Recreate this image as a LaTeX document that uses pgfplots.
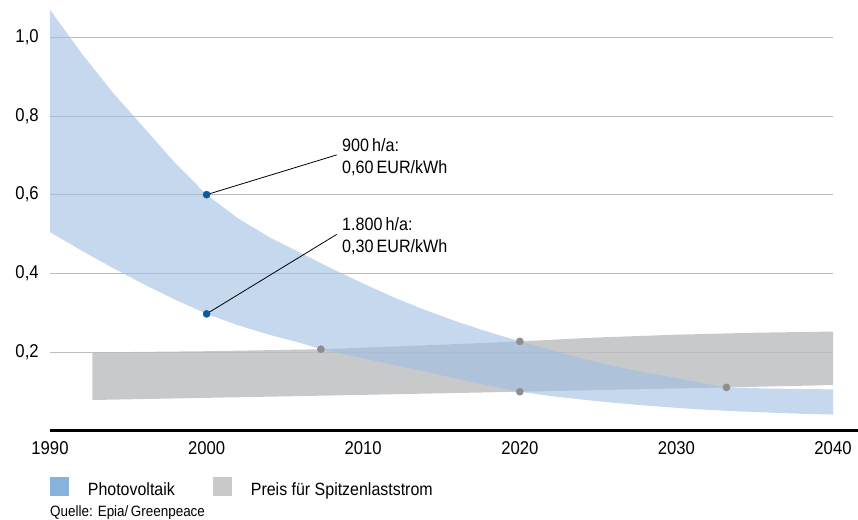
\documentclass[border=0pt]{standalone}
\usepackage{fontspec}
\setmainfont{Liberation Sans}[FakeStretch=0.9]
\usepackage{pgfplots}
\pgfplotsset{compat=1.18}
\definecolor{bandblue}{HTML}{9EBEE3}
\definecolor{bandgray}{HTML}{C8C9CB}
\definecolor{legblue}{HTML}{87B2DD}
\definecolor{gridgray}{HTML}{BDBDBD}
\definecolor{dotblue}{HTML}{0B5B9E}
\definecolor{dotgray}{HTML}{8E8E8E}
\begin{document}
\begin{tikzpicture}[x=1bp,y=1bp]
\begin{axis}[set layers, scale only axis, width=783bp, height=430.7bp,
  at={(0,0)}, anchor=south west,
  xmin=1990, xmax=2040, ymin=0, ymax=1.0948,
  axis line style={draw=none}, tick style={draw=none},
  xtick={1990,2000,2010,2020,2030,2040},
  ytick={0.2,0.4,0.6,0.8,1.0},
  ymajorgrids, grid style={gridgray, line width=0.9bp},
  /pgf/number format/assume math mode=true,
  /pgf/number format/1000 sep={},
  tick label style={font=\fontsize{18.6}{22}\selectfont},
  yticklabel style={/pgf/number format/fixed, /pgf/number format/fixed zerofill,
    /pgf/number format/precision=1, /pgf/number format/use comma, xshift=-7.8bp},
  xticklabel style={yshift=-7bp},
]
% Preis fuer Spitzenlaststrom (band)
\addplot[on layer=axis background, fill=bandgray, draw=none] coordinates {
  (1992.7,0.199) (2000,0.202) (2007.3,0.207) (2014,0.217) (2020,0.227)
  (2025,0.237) (2030,0.244) (2035,0.249) (2040,0.252)
  (2040,0.116) (2033.2,0.110) (2020,0.099) (2007.3,0.089) (1992.7,0.078)
} -- cycle;
% Photovoltaik (band)
\addplot[fill=bandblue, fill opacity=0.6, draw=none] coordinates {
  (1990,1.07) (1992,0.96) (1994,0.86) (1996,0.77) (1998,0.68) (2000,0.60)
  (2002,0.54) (2004,0.492) (2006,0.452) (2008,0.412) (2010,0.374) (2012,0.338)
  (2014,0.306) (2016,0.277) (2018,0.251) (2020,0.227) (2022,0.205) (2024,0.183)
  (2026,0.164) (2028,0.148) (2030,0.134) (2032,0.118) (2033.2,0.110) (2036,0.107)
  (2038,0.106) (2040,0.105)
  (2040,0.041) (2038,0.043) (2036,0.046) (2034,0.049) (2032,0.053) (2030,0.058)
  (2028,0.064) (2026,0.071) (2024,0.079) (2022,0.088) (2020,0.099) (2018,0.115)
  (2016,0.132) (2014,0.150) (2012,0.167) (2010,0.184) (2007.3,0.207) (2006,0.223)
  (2004,0.244) (2002,0.268) (2000,0.297) (1998,0.333) (1996,0.372) (1994,0.414)
  (1992,0.458) (1990,0.505)
} -- cycle;
\draw[black, line width=0.8bp] (axis cs:2000,0.60) -- (axis cs:2008.31,0.701);
\draw[black, line width=0.8bp] (axis cs:2000,0.297) -- (axis cs:2008.31,0.499);
\addplot[only marks, mark=*, mark size=3.6bp, color=dotblue, mark options={fill=dotblue, draw=dotblue}]
  coordinates {(2000,0.60) (2000,0.297)};
\addplot[only marks, mark=*, mark size=3.6bp, color=dotgray, mark options={fill=dotgray, draw=dotgray}]
  coordinates {(2007.3,0.207) (2020,0.227) (2020,0.099) (2033.2,0.110)};
\end{axis}
\draw[line width=2.6bp] (0,0) -- (808,0);
\begin{scope}[every node/.style={anchor=base west, inner sep=0pt, font=\fontsize{18}{22}\selectfont}]
\node at (292,278.7) {900\,h/a:};
\node at (292,256.7) {0,60\,EUR/kWh};
\node at (292,200) {1.800\,h/a:};
\node at (292,178) {0,30\,EUR/kWh};
\end{scope}
\fill[legblue] (0,-46.3) rectangle (19,-65.3);
\fill[bandgray] (163.3,-46.3) rectangle (181.7,-65.3);
\begin{scope}[every node/.style={anchor=base west, inner sep=0pt, font=\fontsize{17.8}{20}\selectfont}]
\node at (37.7,-65.3) {Photovoltaik};
\node at (200.7,-65.3) {Preis für Spitzenlaststrom};
\end{scope}
\node[anchor=base west, inner sep=0pt, font=\fontsize{15}{18}\selectfont] at (0,-86.3) {Quelle: Epia/\,Greenpeace};
\pgfresetboundingbox
\path (-50,-89.3) rectangle (808,430.7);
\end{tikzpicture}
\end{document}
